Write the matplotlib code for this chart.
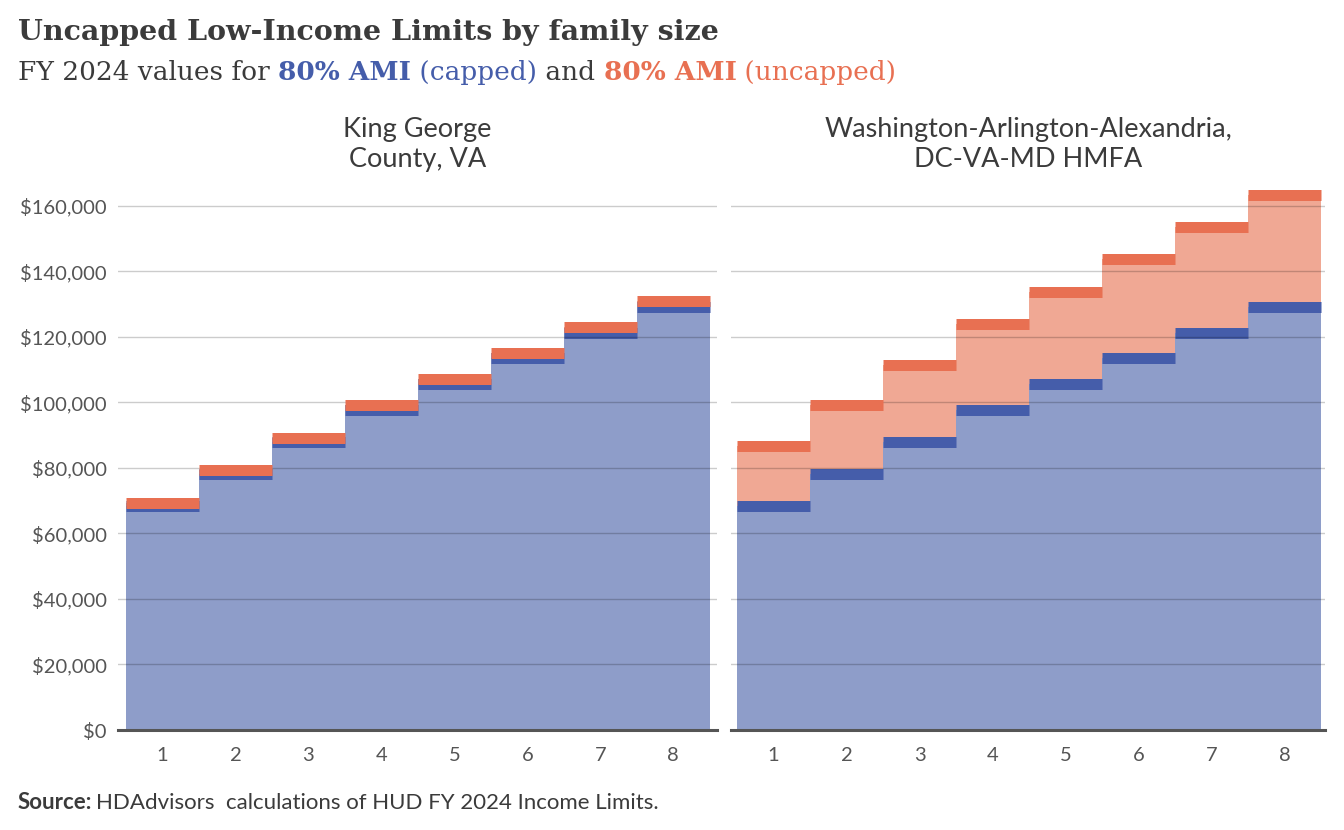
import numpy as np
import matplotlib
matplotlib.use("Agg")
import matplotlib.pyplot as plt
from matplotlib.ticker import FuncFormatter

# Datos (límites de ingreso 80% AMI, FY 2024)
family_size = [1, 2, 3, 4, 5, 6, 7, 8]
capped = [68500, 78250, 88050, 97800, 105650, 113450, 121300, 129100]
king_george_uncapped = [69400, 79300, 89200, 99100, 107050, 114950, 122900, 130800]
washington_uncapped = [86650, 99050, 111400, 123800, 133700, 143600, 153500, 163400]
panel_titles = ["King George\nCounty, VA", "Washington-Arlington-Alexandria,\nDC-VA-MD HMFA"]
y_ticks = [0, 20000, 40000, 60000, 80000, 100000, 120000, 140000, 160000]

# Colores
BLUE = "#455DAA"
BLUE_LIGHT = "#8E9DC9"
ORANGE = "#E87052"
ORANGE_LIGHT = "#F0A894"
TEXT = "#3B3B3B"

plt.rcParams["font.family"] = ["Lato", "DejaVu Sans"]

fig = plt.figure(figsize=(13.44, 8.3), dpi=100)

W, H = 1344, 830
def ax_rect(x0, x1, y0, y1):
    return [x0 / W, 1 - y1 / H, (x1 - x0) / W, (y1 - y0) / H]

ax_left = fig.add_axes(ax_rect(118, 717, 173, 730))
ax_right = fig.add_axes(ax_rect(731, 1325, 173, 730))

x = np.array(family_size)
edges = np.append(x - 0.5, x[-1] + 0.5)
band_lw = 11 * 72 / 100  # grosor de la banda oscura en puntos

for ax, uncapped, title in [(ax_left, king_george_uncapped, panel_titles[0]),
                            (ax_right, washington_uncapped, panel_titles[1])]:
    ax.stairs(capped, edges, baseline=0, fill=True, color=BLUE_LIGHT, zorder=1, linewidth=0)
    ax.stairs(uncapped, edges, baseline=capped, fill=True, color=ORANGE_LIGHT, zorder=1, linewidth=0)
    ax.hlines(capped, x - 0.5, x + 0.5, colors=BLUE, linewidth=band_lw, capstyle="butt", zorder=2)
    ax.hlines(uncapped, x - 0.5, x + 0.5, colors=ORANGE, linewidth=band_lw, capstyle="butt", zorder=3)

    ax.set_ylim(0, 170000)
    ax.set_xticks(family_size)
    ax.set_yticks(y_ticks)
    ax.yaxis.set_major_formatter(FuncFormatter(lambda v, p: f"${v:,.0f}"))
    ax.grid(axis="y", color="black", alpha=0.2, linewidth=1)
    ax.set_axisbelow(False)
    for s in ["top", "right", "left"]:
        ax.spines[s].set_visible(False)
    ax.spines["bottom"].set_color("#555555")
    ax.spines["bottom"].set_linewidth(2.2)
    ax.spines["bottom"].set_zorder(5)
    ax.tick_params(axis="both", length=0, labelsize=14.5, labelcolor="#555555")
    ax.tick_params(axis="x", pad=12)
    ax.tick_params(axis="y", pad=8)
    ax.set_title(title, fontsize=19.5, color=TEXT, pad=4, linespacing=1.25)

ax_left.set_xlim(0.39, 8.6)
ax_right.set_xlim(0.42, 8.55)
ax_right.tick_params(axis="y", labelleft=False)
for gl in ax_left.get_ygridlines() + ax_right.get_ygridlines():
    gl.set_zorder(4)

# Título
fig.text(18 / W, 1 - 40 / H, "Uncapped Low-Income Limits by family size",
         fontsize=20.5, fontweight="bold", family="DejaVu Serif", color=TEXT)

# Subtítulo en varios colores
renderer = fig.canvas.get_renderer()
pieces = [("FY 2024 values for ", TEXT, "normal"),
          ("80% AMI", BLUE, "bold"),
          (" (capped)", BLUE, "normal"),
          (" and ", TEXT, "normal"),
          ("80% AMI", ORANGE, "bold"),
          (" (uncapped)", ORANGE, "normal")]
xpos = 18 / W
for txt, col, wt in pieces:
    t = fig.text(xpos, 1 - 80 / H, txt, fontsize=19, fontweight=wt,
                 family="DejaVu Serif", color=col)
    bb = t.get_window_extent(renderer=renderer)
    xpos = bb.x1 / W

# Fuente
t = fig.text(18 / W, 1 - 809 / H, "Source:", fontsize=16, fontweight="bold", color=TEXT)
bb = t.get_window_extent(renderer=renderer)
fig.text(bb.x1 / W + 4 / W, 1 - 809 / H, "HDAdvisors  calculations of HUD FY 2024 Income Limits.",
         fontsize=16, color=TEXT)

fig.savefig("out.png", dpi=100)
